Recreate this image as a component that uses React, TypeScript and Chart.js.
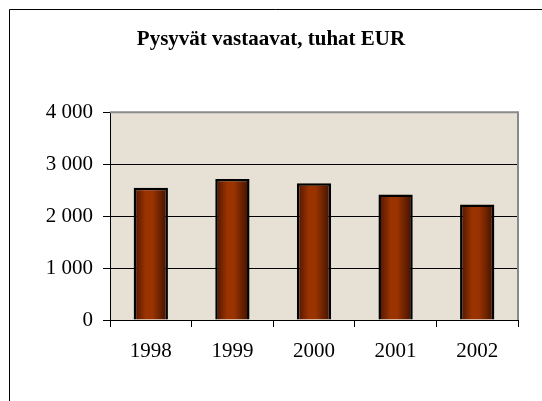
import React, { useEffect, useRef } from "react";
import { Chart, registerables } from "chart.js";

Chart.register(...registerables);

const categories = ["1998", "1999", "2000", "2001", "2002"];
const values = [2545, 2715, 2630, 2415, 2225];
const yTicks = [0, 1000, 2000, 3000, 4000];
const titleText = "Pysyvät vastaavat, tuhat EUR";

const fmt = (v: number) => String(v).replace(/\B(?=(\d{3})+(?!\d))/g, " ");
const serif = "'Liberation Serif', 'Times New Roman', serif";

const framePlugin = {
  id: "frame",
  beforeDraw(chart: any) {
    const { ctx, chartArea: a } = chart;
    ctx.save();
    ctx.fillStyle = "#ffffff";
    ctx.fillRect(0, 0, chart.width, chart.height);
    ctx.fillStyle = "#e6e0d5";
    ctx.fillRect(a.left, a.top, a.right - a.left, a.bottom - a.top);
    ctx.strokeStyle = "#000000";
    ctx.lineWidth = 1;
    ctx.beginPath();
    ctx.moveTo(9.5, chart.height);
    ctx.lineTo(9.5, 9.5);
    ctx.lineTo(chart.width, 9.5);
    ctx.stroke();
    ctx.restore();
  },
  afterDraw(chart: any) {
    const { ctx, chartArea: a } = chart;
    ctx.save();
    ctx.strokeStyle = "#8a8a8a";
    ctx.lineWidth = 2;
    ctx.beginPath();
    ctx.moveTo(a.left, a.top);
    ctx.lineTo(a.right, a.top);
    ctx.lineTo(a.right, a.bottom);
    ctx.stroke();
    ctx.restore();
  },
};

export default function App() {
  const ref = useRef<HTMLCanvasElement>(null);
  useEffect(() => {
    const canvas = ref.current!;
    const chart = new Chart(canvas, {
      type: "bar",
      data: {
        labels: categories,
        datasets: [
          {
            data: values,
            borderColor: "#000000",
            borderWidth: 2.5,
            barPercentage: 0.42,
            categoryPercentage: 1,
            backgroundColor: (c: any) => {
              const ch = c.chart;
              const xs = ch.scales && ch.scales.x;
              if (!xs || !ch.chartArea || c.dataIndex === undefined) return "#993300";
              const cx = xs.getPixelForValue(c.dataIndex);
              const w = (xs.width / categories.length) * 0.42;
              const g = ch.ctx.createLinearGradient(cx - w / 2, 0, cx + w / 2, 0);
              g.addColorStop(0, "#4a1400");
              g.addColorStop(0.35, "#9a3300");
              g.addColorStop(0.55, "#993300");
              g.addColorStop(1, "#3c1000");
              return g;
            },
          },
        ],
      },
      options: {
        responsive: false,
        animation: false,
        layout: { padding: 0 },
        plugins: {
          legend: { display: false },
          tooltip: { enabled: false },
          title: {
            display: true,
            text: titleText,
            color: "#000000",
            font: { family: serif, size: 21, weight: "bold" },
            padding: { top: 27, bottom: 60 },
          },
        },
        scales: {
          x: {
            afterFit: (s: any) => {
              s.height = 81;
            },
            grid: {
              offset: true,
              drawOnChartArea: false,
              drawTicks: true,
              tickLength: 7,
              color: "#000000",
            },
            border: { color: "#000000", width: 1 },
            ticks: {
              color: "#000000",
              padding: 12,
              font: { family: serif, size: 21 },
            },
          },
          y: {
            min: 0,
            max: 4000,
            afterFit: (s: any) => {
              s.width = 110;
            },
            afterBuildTicks: (s: any) => {
              s.ticks = yTicks.map((v) => ({ value: v }));
            },
            grid: {
              color: (c: any) => (c.tick && c.tick.value === 4000 ? "rgba(0,0,0,0)" : "#000000"),
              tickColor: "#000000",
              tickLength: 7,
              lineWidth: 1,
            },
            border: { color: "#000000", width: 1 },
            ticks: {
              color: "#000000",
              padding: 10,
              font: { family: serif, size: 21 },
              callback: (v: any) => fmt(Number(v)),
            },
          },
          yRight: {
            position: "right",
            display: true,
            afterFit: (s: any) => {
              s.width = 24;
            },
            grid: { drawOnChartArea: false, drawTicks: false },
            border: { display: false },
            ticks: { display: false },
          },
        },
      },
      plugins: [framePlugin],
    } as any);
    return () => chart.destroy();
  }, []);
  return (
    <div style={{ position: "fixed", left: 0, top: 0, width: 542, height: 401 }}>
      <canvas ref={ref} width={542} height={401} />
    </div>
  );
}
